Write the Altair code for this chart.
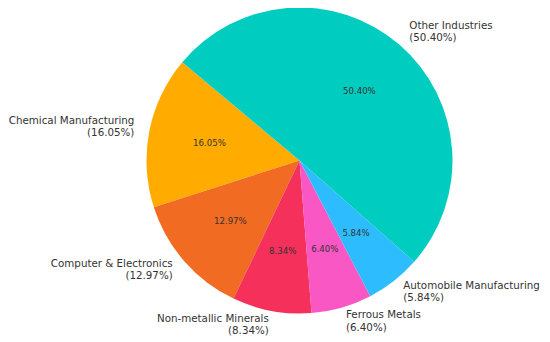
import math
import altair as alt
import pandas as pd

categories = ["Chemical Manufacturing", "Computer & Electronics", "Non-metallic Minerals",
              "Ferrous Metals", "Automobile Manufacturing", "Other Industries"]
shares = [16.05, 12.97, 8.34, 6.40, 5.84, 50.40]
colors = ["#FFAB00", "#F26B22", "#F5305A", "#F857C4", "#2DBDFF", "#00CDC0"]

# matplotlib-like: start at 140 deg, counter-clockwise
start_deg = 140.0
rows = []
cum = 0.0
total = sum(shares)
for i, (c, v) in enumerate(zip(categories, shares)):
    mid = start_deg + (cum + v / 2) / total * 360
    cum += v
    right = math.cos(math.radians(mid)) >= 0
    lab = f"{c}\n({v:.2f}%)"
    rows.append({
        "category": c, "share": v, "ord": len(categories) - 1 - i,
        "pct": f"{v:.2f}%",
        "lab_right": lab if right else "",
        "lab_left": "" if right else lab,
    })
df = pd.DataFrame(rows)

t0 = math.radians(90 - start_deg) % (2 * math.pi)
theta_scale = alt.Scale(range=[t0, t0 + 2 * math.pi])

cx, cy, R = 291.5, 152.5, 153
lh = 12.5

base = alt.Chart(df).encode(
    theta=alt.Theta("share:Q", stack=True, scale=theta_scale),
    order=alt.Order("ord:Q"),
    x=alt.value(cx), y=alt.value(cy),
)

pie = base.mark_arc(outerRadius=R, stroke=None).encode(
    color=alt.Color("category:N", scale=alt.Scale(domain=categories, range=colors), legend=None)
)

pct = base.mark_text(radius=R * 0.6, font="DejaVu Sans", fontSize=8.6, color="#333333",
                     align="center", baseline="middle").encode(text="pct:N")

lab_r = base.mark_text(radius=R * 1.1, font="DejaVu Sans", fontSize=10.3, color="#333333",
                       align="left", baseline="middle", lineBreak="\n", lineHeight=lh,
                       dy=-lh / 2 - 1).encode(text="lab_right:N")
lab_l = base.mark_text(radius=R * 1.1, font="DejaVu Sans", fontSize=10.3, color="#333333",
                       align="right", baseline="middle", lineBreak="\n", lineHeight=lh,
                       dy=-lh / 2 - 1).encode(text="lab_left:N")

chart = alt.layer(pie, pct, lab_r, lab_l).properties(
    width=534, height=333, padding=0, autosize=alt.AutoSizeParams(type="none")
).configure_view(stroke=None)

chart.save("out.html", embed_options={"renderer": "svg", "actions": False})
